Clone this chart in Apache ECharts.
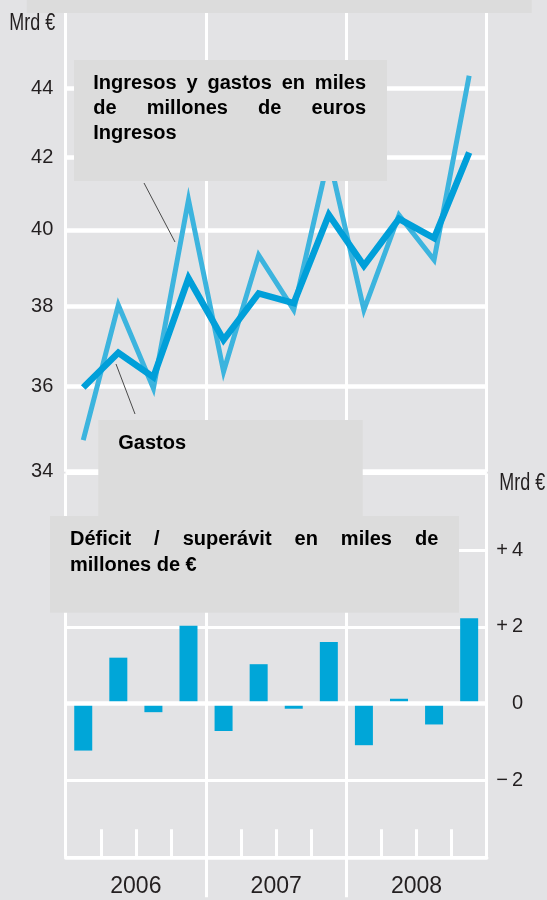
<!DOCTYPE html>
<html>
<head>
<meta charset="utf-8">
<script src="https://cdn.jsdelivr.net/npm/echarts@6/dist/echarts.min.js"></script>
<style>
  html, body { margin: 0; padding: 0; background: #e3e3e5; }
  #chart { width: 547px; height: 900px; }
</style>
</head>
<body>
<div id="chart"></div>
<script>
// quarters 2006-2008
const quarters = ['2006 T1', '2006 T2', '2006 T3', '2006 T4',
                  '2007 T1', '2007 T2', '2007 T3', '2007 T4',
                  '2008 T1', '2008 T2', '2008 T3', '2008 T4'];
const years = ['2006', '2007', '2008'];
const ingresos = [34.73, 38.03, 35.96, 40.82, 36.37, 39.33, 37.91, 42.03, 37.91, 40.4, 39.2, 44.37];
const gastos = [35.98, 36.83, 36.23, 38.72, 37.15, 38.33, 38.08, 40.41, 39.05, 40.3, 39.78, 42.14];
const saldo = [-1.22, 1.2, -0.22, 2.03, -0.71, 1.03, -0.13, 1.61, -1.08, 0.13, -0.54, 2.23];
const topTicks = [34, 36, 38, 40, 42, 44];
const yearBreaks = [4, 8];

const numFont = '"Liberation Sans", Arial, sans-serif';
const ink = '#231f20';
const boxFill = '#dcdcdc';
const noteFont = 'bold 20px "Liberation Sans", Arial, sans-serif';

const ctx = document.createElement('canvas').getContext('2d');
function justified(words, x0, x1, y) {
    ctx.font = noteFont;
    const widths = words.map(w => ctx.measureText(w).width);
    const gap = (x1 - x0 - widths.reduce((a, b) => a + b, 0)) / (words.length - 1);
    let x = x0;
    return words.map((w, i) => {
        const el = { type: 'text', x: x, y: y, z: 101, style: { text: w, font: noteFont, fill: '#000', verticalAlign: 'middle' } };
        x += widths[i] + gap;
        return el;
    });
}
function note(text, x, y) {
    return { type: 'text', x: x, y: y, z: 101, style: { text: text, font: noteFont, fill: '#000', verticalAlign: 'middle' } };
}
function box(x, y, w, h) {
    return { type: 'rect', z: 100, shape: { x: x, y: y, width: w, height: h }, style: { fill: boxFill } };
}
function leader(x1, y1, x2, y2) {
    return { type: 'line', z: 100, shape: { x1: x1, y1: y1, x2: x2, y2: y2 }, style: { stroke: '#4a4a4a', lineWidth: 1 } };
}
function unit(x, y) {
    return { type: 'text', x: x, y: y, scaleX: 0.78, style: { text: 'Mrd €', fontSize: 23, fontFamily: numFont, fill: ink, verticalAlign: 'middle' } };
}

const chart = echarts.init(document.getElementById('chart'));

const option = {
    animation: false,
    backgroundColor: '#e3e3e5',
    textStyle: { fontFamily: numFont },
    grid: [
        { left: 65.7, right: 60.3, top: 13, bottom: 428.3 },
        { left: 65.7, right: 60.3, top: 473.4, bottom: 42.7 }
    ],
    xAxis: [
        { gridIndex: 0, type: 'category', data: quarters, show: false },
        {
            gridIndex: 0, type: 'category', data: years, position: 'bottom',
            axisLine: { show: false }, axisTick: { show: false }, axisLabel: { show: false },
            splitLine: { show: true, interval: 0, lineStyle: { color: '#fff', width: 3 } }
        },
        {
            gridIndex: 1, type: 'category', data: quarters, position: 'bottom',
            axisLine: { onZero: false, lineStyle: { color: '#fff', width: 3.5 } },
            axisTick: { show: true, inside: true, length: 28, interval: 0, lineStyle: { color: '#fff', width: 3 } },
            axisLabel: { show: false }
        },
        {
            gridIndex: 1, type: 'category', data: years, position: 'bottom',
            axisLine: { show: false }, axisTick: { show: false },
            axisLabel: { margin: 18, fontSize: 23, color: ink, fontFamily: numFont },
            splitLine: { show: true, interval: 0, lineStyle: { color: '#fff', width: 3 } }
        },
        {
            gridIndex: 1, type: 'value', min: 0, max: 12, position: 'bottom',
            axisLine: { show: false }, axisLabel: { show: false }, splitLine: { show: false },
            axisTick: { show: true, customValues: yearBreaks, length: 40, lineStyle: { color: '#fff', width: 3 } }
        }
    ],
    yAxis: [
        { gridIndex: 0, type: 'log', logBase: 10, min: 34, max: 46.28, show: false },
        {
            gridIndex: 1, type: 'value', min: -4, max: 6, interval: 2, position: 'right',
            axisLine: { show: false }, axisTick: { show: false },
            splitLine: { lineStyle: { color: '#fff', width: 3 } },
            axisLabel: {
                align: 'right', margin: 36.3, fontSize: 20, color: ink, fontFamily: numFont,
                formatter: v => (v === 6 || v === -4) ? '' : v > 0 ? '+\u2009' + v : v < 0 ? '\u2212\u2009' + Math.abs(v) : '0'
            }
        }
    ],
    series: [
        {
            name: 'Ingresos', type: 'line', xAxisIndex: 0, yAxisIndex: 0, data: ingresos,
            symbol: 'none', z: 3,
            lineStyle: { color: '#3cb4de', width: 5, join: 'miter' },
            markLine: {
                silent: true, symbol: 'none', z: 1, animation: false,
                lineStyle: { color: '#fff', width: 4.5, type: 'solid' },
                label: { show: true, position: 'start', distance: 12.4, formatter: p => p.value, color: ink, fontSize: 20, fontFamily: numFont },
                emphasis: { disabled: true },
                data: topTicks.map(v => ({ yAxis: v }))
            }
        },
        {
            name: 'Gastos', type: 'line', xAxisIndex: 0, yAxisIndex: 0, data: gastos,
            symbol: 'none', z: 4,
            lineStyle: { color: '#009fd9', width: 6.5, join: 'miter' }
        },
        {
            name: 'Saldo', type: 'bar', xAxisIndex: 2, yAxisIndex: 1, data: saldo,
            barWidth: 18, itemStyle: { color: '#00a6d8' },
            markLine: {
                silent: true, symbol: 'none', animation: false,
                lineStyle: { color: '#fff', width: 4.5, type: 'solid' },
                label: { show: false },
                emphasis: { disabled: true },
                data: [{ yAxis: 0 }]
            }
        }
    ],
    graphic: [
        unit(9.3, 23.3),
        unit(499.3, 484),
        box(26.7, 0, 505, 13),
        leader(144, 183, 175, 242),
        leader(116, 364, 135, 414),
        box(74, 60, 313, 121),
        ...justified(['Ingresos', 'y', 'gastos', 'en', 'miles'], 93.3, 366, 83.3),
        ...justified(['de', 'millones', 'de', 'euros'], 93.3, 366, 108.3),
        note('Ingresos', 93.3, 133.3),
        box(98.3, 420, 264.4, 100),
        note('Gastos', 118.3, 443.3),
        box(50, 516, 409, 96.7),
        ...justified(['Déficit', '/', 'superávit', 'en', 'miles', 'de'], 70, 438.3, 539),
        note('millones de €', 70, 565)
    ]
};

chart.setOption(option);
</script>
</body>
</html>
